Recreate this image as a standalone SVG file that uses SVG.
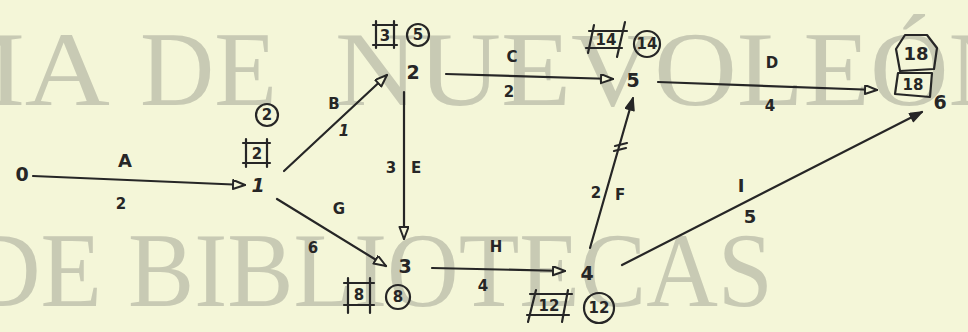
<svg xmlns="http://www.w3.org/2000/svg" width="968" height="332" viewBox="0 0 968 332">
<style>
.wm{font-family:"Liberation Serif","Times New Roman",serif;fill:#c8cab4;font-size:106px}
.ink{stroke:#262626;stroke-width:2.2;fill:none;stroke-linecap:round;stroke-linejoin:round}
.t{font-family:"DejaVu Sans",sans-serif;fill:#262626;font-size:18px;font-weight:bold;text-anchor:middle}
.s{font-family:"DejaVu Sans",sans-serif;fill:#262626;font-size:15px;font-weight:bold;text-anchor:middle}
.n{font-family:"DejaVu Sans",sans-serif;fill:#262626;font-size:19px;font-weight:bold;text-anchor:middle}
</style>
<defs>
<marker id="open" markerUnits="userSpaceOnUse" markerWidth="16" markerHeight="12" refX="13" refY="5" orient="auto">
<path d="M1,0.5 L13,5 L1,9.5 Z" fill="#f4f6d8" stroke="#262626" stroke-width="2" stroke-linejoin="round"/>
</marker>
<marker id="solid" markerUnits="userSpaceOnUse" markerWidth="16" markerHeight="12" refX="13" refY="5" orient="auto">
<path d="M1,0.5 L13,5 L1,9.5 Z" fill="#262626" stroke="#262626" stroke-width="1.5" stroke-linejoin="round"/>
</marker>
</defs>
<rect width="968" height="332" fill="#f4f6d8"/>
<g id="watermark">
<text class="wm" x="-80" y="105" textLength="190" lengthAdjust="spacingAndGlyphs">MA</text>
<text class="wm" x="140" y="105" textLength="137" lengthAdjust="spacingAndGlyphs">DE</text>
<text class="wm" x="335" y="105" textLength="402" lengthAdjust="spacingAndGlyphs">NUEVO</text>
<text class="wm" x="737" y="105" textLength="290" lengthAdjust="spacingAndGlyphs">LEÓN</text>
<text class="wm" x="-32" y="306" textLength="134" lengthAdjust="spacingAndGlyphs">DE</text>
<text class="wm" x="128" y="306" textLength="645" lengthAdjust="spacingAndGlyphs">BIBLIOTECAS</text>
</g>
<g id="connectors">
<line class="ink" x1="33" y1="176" x2="245" y2="185" marker-end="url(#open)"/>
<text class="t" x="125" y="167">A</text><text class="s" x="121" y="209">2</text>
<line class="ink" x1="284" y1="171" x2="387" y2="75" marker-end="url(#open)"/>
<text class="s" x="334" y="109">B</text><text class="s" x="344" y="136" font-style="italic">1</text>
<line class="ink" x1="404" y1="92" x2="404" y2="239" marker-end="url(#open)"/>
<text class="s" x="391" y="173">3</text><text class="s" x="416" y="173">E</text>
<line class="ink" x1="277" y1="199" x2="386" y2="266" marker-end="url(#open)"/>
<text class="s" x="339" y="214">G</text><text class="s" x="313" y="253">6</text>
<line class="ink" x1="446" y1="74" x2="613" y2="79" marker-end="url(#open)"/>
<text class="s" x="512" y="62">C</text><text class="s" x="509" y="97">2</text>
<line class="ink" x1="432" y1="268" x2="565" y2="271" marker-end="url(#open)"/>
<text class="s" x="496" y="252">H</text><text class="s" x="483" y="291">4</text>
<line class="ink" x1="590" y1="248" x2="633" y2="98" marker-end="url(#solid)"/>
<line class="ink" x1="615" y1="146" x2="627" y2="143"/><line class="ink" x1="614" y1="151" x2="626" y2="148"/>
<text class="s" x="596" y="198">2</text><text class="s" x="620" y="200">F</text>
<line class="ink" x1="658" y1="82" x2="877" y2="90" marker-end="url(#open)"/>
<text class="s" x="772" y="68">D</text><text class="s" x="770" y="111">4</text>
<line class="ink" x1="622" y1="265" x2="922" y2="112" marker-end="url(#solid)"/>
<text class="t" x="741" y="192">I</text><text class="t" x="750" y="223">5</text>
</g>
<g id="node-0"><text class="n" x="22" y="181">0</text></g>
<g id="node-1">
<text class="n" x="258" y="192" font-style="italic">1</text>
<path class="ink" d="M243,143 H270 M243,163 H270 M246,139 V167 M267,139 V167"/>
<text class="s" x="257" y="159">2</text>
<circle class="ink" cx="267" cy="115" r="11"/><text class="s" x="267" y="120">2</text>
</g>
<g id="node-2">
<text class="n" x="413" y="79">2</text>
<path class="ink" d="M373,25 H397 M373,45 H397 M376,21 V48 M394,21 V48"/>
<text class="s" x="385" y="41">3</text>
<circle class="ink" cx="418" cy="35" r="11"/><text class="s" x="418" y="40">5</text>
</g>
<g id="node-3">
<text class="n" x="405" y="273">3</text>
<path class="ink" d="M344,283 H374 M344,305 H374 M348,278 V313 M370,278 V313"/>
<text class="s" x="359" y="300">8</text>
<circle class="ink" cx="398" cy="297" r="12"/><text class="s" x="398" y="302">8</text>
</g>
<g id="node-4">
<text class="n" x="587" y="280">4</text>
<path class="ink" d="M530,294 H572 M527,315 H569 M536,290 L528,322 M568,290 L562,322"/>
<text class="s" x="549" y="311">12</text>
<circle class="ink" cx="599" cy="308" r="15"/><text class="s" x="599" y="313">12</text>
</g>
<g id="node-5">
<text class="n" x="633" y="87">5</text>
<path class="ink" d="M589,31 H627 M586,48 H622 M594,25 L588,53 M625,22 L617,57"/>
<text class="s" x="606" y="45">14</text>
<circle class="ink" cx="647" cy="44" r="13"/><text class="s" x="647" y="49">14</text>
</g>
<g id="node-6">
<text class="n" x="940" y="109">6</text>
<path class="ink" d="M905,35 L927,35 L937,48 L934,69 L900,71 L896,49 Z"/>
<text class="t" x="916" y="60">18</text>
<path class="ink" d="M898,73 L932,73 L930,97 L895,94 Z"/>
<text class="s" x="913" y="90">18</text>
</g>
</svg>
